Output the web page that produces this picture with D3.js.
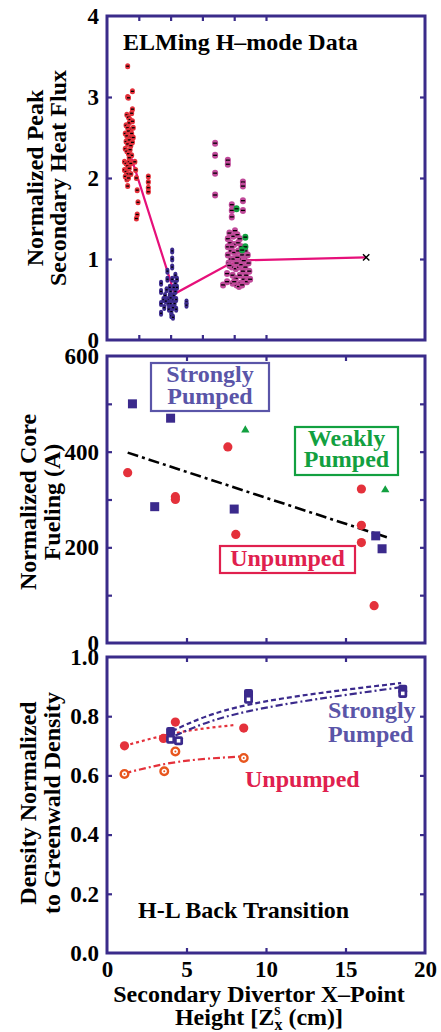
<!DOCTYPE html>
<html>
<head>
<meta charset="utf-8">
<script src="https://cdn.jsdelivr.net/npm/d3@7"></script>
</head>
<body style="margin:0;background:#fff">
<div id="chart"></div>
<script>
// panel 1 - ELMing H-mode peak heat flux clusters [x, y]
var unpumpedFlux = [
  [1.3,3.38],[1.6,3.07],[1.3,3.0],[1.35,2.99],
  [1.25,2.78],[1.35,2.75],[1.45,2.72],[1.55,2.8],[1.6,2.85],[1.2,2.65],[1.3,2.62],
  [1.4,2.68],[1.5,2.6],[1.6,2.7],[1.15,2.55],[1.25,2.52],[1.35,2.58],[1.45,2.5],
  [1.55,2.55],[1.2,2.45],[1.3,2.42],[1.4,2.47],[1.5,2.4],[1.6,2.44],[1.15,2.36],
  [1.25,2.33],[1.35,2.3],[1.45,2.35],[1.55,2.28],[1.4,2.25],[1.65,2.5],[1.65,2.62],
  [1.1,2.2],[1.2,2.18],[1.3,2.15],[1.4,2.2],[1.1,2.1],[1.2,2.08],[1.3,2.05],
  [1.4,2.12],[1.15,2.02],[1.25,1.98],[1.5,2.18],[1.5,2.05],[1.35,2.0],[1.3,1.9],
  [1.75,2.2],[1.8,2.1],[1.85,2.0],[1.9,1.85],[1.95,1.7],[1.9,1.55],[1.85,1.5],
  [2.6,2.02],[2.6,1.95],[2.6,1.88],[2.6,1.83]
];
var strongFlux = [
  [3.4,0.7],[3.4,0.6],[3.4,0.45],[3.4,0.33],[3.55,0.5],[3.6,0.4],[3.65,0.55],
  [3.75,0.62],[3.8,0.75],[3.8,0.85],[3.85,0.5],[3.85,0.45],[3.9,0.38],[3.95,0.65],
  [3.95,0.55],[4.0,0.45],[4.0,0.6],[4.05,0.35],[4.05,0.3],[4.1,1.1],[4.1,1.0],
  [4.1,0.9],[4.1,0.75],[4.1,0.5],[4.15,0.4],[4.15,0.28],[4.2,0.65],[4.2,0.55],
  [4.25,0.45],[4.3,0.8],[4.3,0.7],[4.3,0.6],[4.35,0.5],[4.35,0.38],[4.0,0.52],
  [3.7,0.48],[4.4,0.75],[4.4,0.65],[5.0,0.47],[5.0,0.43]
];
var midFlux = [
  [6.8,2.43],[6.8,2.28],[6.8,2.06],[6.8,1.79],[7.6,2.22],[7.6,2.17],[7.85,1.67],
  [7.85,1.6],[7.85,1.52],[8.55,1.95],[8.55,1.9],[8.55,1.72],[8.55,1.6],
  [7.3,0.68],[7.55,0.82],[7.55,0.72],[7.6,1.25],[7.6,1.15],[7.6,1.05],[7.65,0.95],
  [7.7,1.32],[7.75,1.2],[7.8,1.1],[7.8,1.0],[7.85,0.9],[7.9,0.8],[7.9,0.7],
  [7.95,1.28],[8.0,1.18],[8.0,1.08],[8.05,0.98],[8.1,0.88],[8.1,0.76],[8.15,0.68],
  [8.2,1.3],[8.25,1.2],[8.25,1.1],[8.3,1.0],[8.3,0.9],[8.35,0.8],[8.4,0.7],
  [8.45,1.15],[8.5,1.05],[8.5,0.95],[8.55,0.85],[8.6,0.75],[8.65,1.0],[8.7,0.9],
  [8.75,0.8],[8.8,0.72],[8.85,1.05],[8.9,0.95],[8.95,0.85],[9.0,0.75],[7.7,0.92],
  [7.95,1.0],[8.2,1.02],[8.4,0.93],[8.6,0.98],[7.85,1.15],[8.15,0.95],[8.35,1.25],
  [8.05,1.35],[8.7,1.1],[8.0,0.72],[8.3,0.66],[8.5,0.68]
];
var weakFlux = [[8.15,1.62],[8.7,1.27],[8.7,1.15],[8.5,1.11]];
var fluxTrend = [[1.55,2.24],[4.25,0.57],[7.6,0.93],[8.8,0.985],[16.3,1.02]];
var fluxCross = [[16.3,1.02]];

// panel 2 - normalized core fueling (A)
var fuelStrong = [[1.6,500],[4.0,470],[3.0,285],[8.0,280],[16.9,224],[17.3,197]];
var fuelUnpumped = [[1.3,356],[4.3,306],[4.3,300],[7.6,410],[8.1,227],[16.0,322],[16.0,246],[16.0,210],[16.8,78]];
var fuelWeak = [[8.7,445],[17.5,320]];
var fuelTrend = [[1.3,398],[17.6,221]];

// panel 3 - density normalized to Greenwald, H-L back transition
var densUnpFilled = [[1.1,0.70],[3.55,0.725],[4.3,0.78],[8.6,0.76]];
var densUnpOpen = [[1.1,0.605],[3.6,0.614],[4.3,0.681],[8.6,0.659]];
var densStrFilled = [[4.0,0.748],[8.9,0.877],[18.6,0.891]];
var densStrOpen = [[4.0,0.722],[4.5,0.717],[8.9,0.857],[18.6,0.877]];
var fitUnpFilled = [[1.1,0.70],[4.5,0.745],[8.0,0.77]];
var fitUnpOpen = [[1.1,0.607],[4.5,0.646],[8.5,0.664]];
var fitStrFilled = [[4.1,0.75],[9.0,0.84],[18.5,0.912]];
var fitStrOpen = [[4.3,0.735],[9.0,0.818],[18.5,0.898]];

var xTicksAll = [5, 10, 15];
var xTicksTop = [2, 4, 6, 8, 10];
var xLabels = [0, 5, 10, 15, 20];

var W = 441, H = 1032;
var frame = "#3a2b8a", purple = "#3b2a8c", lilac = "#5a55a8";
var red = "#e4313b", crimson = "#e0204e", green = "#12a040", magenta = "#c04a9a", pink = "#e6107a", orange = "#e8561e";

var svg = d3.select("#chart").append("svg").attr("width", W).attr("height", H);

var x = d3.scaleLinear().domain([0, 20]).range([107, 425]);
var y1 = d3.scaleLinear().domain([0, 4]).range([340, 16]);
var y2 = d3.scaleLinear().domain([0, 600]).range([643, 356]);
var y3 = d3.scaleLinear().domain([0, 1]).range([953, 657]);

function frameAxes(y, xt, yt) {
  var top = y.range()[1], bot = y.range()[0];
  var g = svg.append("g");
  var tick = function(a) { return a.tickSizeInner(-5).tickSizeOuter(0).tickFormat(""); };
  g.append("g").attr("transform", "translate(0," + bot + ")").call(tick(d3.axisBottom(x).tickValues(xt)));
  g.append("g").attr("transform", "translate(0," + top + ")").call(tick(d3.axisTop(x).tickValues(xt)));
  g.append("g").attr("transform", "translate(107,0)").call(tick(d3.axisLeft(y).tickValues(yt)));
  g.append("g").attr("transform", "translate(425,0)").call(tick(d3.axisRight(y).tickValues(yt)));
  g.selectAll(".domain").remove();
  g.selectAll(".tick line").attr("stroke", frame).attr("stroke-width", 2.2);
  svg.append("rect").attr("x", 107).attr("y", top).attr("width", 318).attr("height", bot - top)
    .attr("fill", "none").attr("stroke", frame).attr("stroke-width", 3);
}

function yLabels(y, vals, fmt) {
  var g = svg.append("g").attr("transform", "translate(107,0)")
    .call(d3.axisLeft(y).tickValues(vals).tickSize(0).tickPadding(8).tickFormat(fmt));
  g.select(".domain").remove();
  g.selectAll("text").attr("font-size", 23).attr("fill", "#000");
}

function yTitle(lines, cy, xs) {
  lines.forEach(function(t, i) {
    svg.append("text").attr("transform", "translate(" + xs[i] + "," + cy + ") rotate(-90)")
      .attr("text-anchor", "middle").attr("font-size", 24).text(t);
  });
}

function label(t, px, py, col, anchor) {
  return svg.append("text").attr("x", px).attr("y", py).attr("fill", col || "#000")
    .attr("text-anchor", anchor || "start").attr("font-size", 24).text(t);
}

// ---------- panel 1 ----------
frameAxes(y1, xTicksTop, [1, 2, 3]);
yLabels(y1, [0, 1, 2, 3, 4], d3.format("d"));
yTitle(["Normalized Peak", "Secondary Heat Flux"], 178, [43, 66]);
label("ELMing H\u2013mode Data", 123, 50);

svg.append("path").datum(fluxTrend)
  .attr("d", d3.line().x(function(d) { return x(d[0]); }).y(function(d) { return y1(d[1]); }))
  .attr("fill", "none").attr("stroke", pink).attr("stroke-width", 2.2);

function cluster(data, col, w, h) {
  var g = svg.append("g");
  var p = g.selectAll("g").data(data).enter().append("g")
    .attr("transform", function(d) { return "translate(" + x(d[0]) + "," + y1(d[1]) + ")"; });
  p.append("rect").attr("x", -w / 2).attr("y", -h / 2).attr("width", w).attr("height", h)
    .attr("rx", w / 2).attr("fill", col);
  p.append("line").attr("x1", -w / 2 + 1).attr("x2", w / 2 - 1).attr("y1", 0).attr("y2", 0)
    .attr("stroke", "#000").attr("stroke-width", 1.3);
}
cluster(midFlux, magenta, 6, 7);
cluster(weakFlux, green, 6, 7);
cluster(unpumpedFlux, red, 5, 6);
cluster(strongFlux, purple, 4, 7);

svg.selectAll(".cross").data(fluxCross).enter().append("path").attr("class", "cross")
  .attr("d", d3.symbol().type(d3.symbolX).size(28))
  .attr("transform", function(d) { return "translate(" + x(d[0]) + "," + y1(d[1]) + ")"; })
  .attr("stroke", "#000").attr("stroke-width", 1.4);

// ---------- panel 2 ----------
frameAxes(y2, xTicksAll, [100, 200, 300, 400, 500]);
yLabels(y2, [0, 200, 400, 600], d3.format("d"));
yTitle(["Normalized Core", "Fueling (A)"], 502, [36, 60]);

svg.append("path").datum(fuelTrend)
  .attr("d", d3.line().x(function(d) { return x(d[0]); }).y(function(d) { return y2(d[1]); }))
  .attr("fill", "none").attr("stroke", "#000").attr("stroke-width", 2.6).attr("stroke-dasharray", "11,4,3,4");

svg.selectAll(".fs").data(fuelStrong).enter().append("rect")
  .attr("x", function(d) { return x(d[0]) - 4.5; }).attr("y", function(d) { return y2(d[1]) - 4.5; })
  .attr("width", 9).attr("height", 9).attr("fill", purple);
svg.selectAll(".fu").data(fuelUnpumped).enter().append("circle")
  .attr("cx", function(d) { return x(d[0]); }).attr("cy", function(d) { return y2(d[1]); })
  .attr("r", 4.6).attr("fill", red);
svg.selectAll(".fw").data(fuelWeak).enter().append("path")
  .attr("d", d3.symbol().type(d3.symbolTriangle).size(30))
  .attr("transform", function(d) { return "translate(" + x(d[0]) + "," + y2(d[1]) + ")"; })
  .attr("fill", green);

function box(x0, y0, x1, y1b, col, lines, bases) {
  svg.append("rect").attr("x", x0).attr("y", y0).attr("width", x1 - x0).attr("height", y1b - y0)
    .attr("fill", "none").attr("stroke", col).attr("stroke-width", 2.2);
  lines.forEach(function(t, i) { label(t, (x0 + x1) / 2, bases[i], col, "middle"); });
}
box(151, 363, 269, 411, lilac, ["Strongly", "Pumped"], [382, 404]);
box(295, 427, 398, 475, green, ["Weakly", "Pumped"], [446, 467]);
box(220, 546, 355, 573, crimson, ["Unpumped"], [566]);

// ---------- panel 3 ----------
frameAxes(y3, xTicksAll, [0.2, 0.4, 0.6, 0.8]);
yLabels(y3, [0, 0.2, 0.4, 0.6, 0.8, 1.0], d3.format(".1f"));
yTitle(["Density Normalized", "to Greenwald Density"], 803, [36, 60]);

var xl = svg.append("g").attr("transform", "translate(0,953)")
  .call(d3.axisBottom(x).tickValues(xLabels).tickSize(0).tickPadding(8).tickFormat(d3.format("d")));
xl.select(".domain").remove();
xl.selectAll("text").attr("font-size", 23).attr("fill", "#000");

var curve = d3.line().curve(d3.curveNatural)
  .x(function(d) { return x(d[0]); }).y(function(d) { return y3(d[1]); });
[[fitUnpFilled, red, "3,3"], [fitUnpOpen, red, "7,3,2,3"],
 [fitStrFilled, purple, "5,3"], [fitStrOpen, purple, "7,3,2,3"]].forEach(function(c) {
  svg.append("path").datum(c[0]).attr("d", curve).attr("fill", "none")
    .attr("stroke", c[1]).attr("stroke-width", 2.2).attr("stroke-dasharray", c[2]);
});

svg.selectAll(".df").data(densUnpFilled).enter().append("circle")
  .attr("cx", function(d) { return x(d[0]); }).attr("cy", function(d) { return y3(d[1]); })
  .attr("r", 4.6).attr("fill", red);
var op = svg.selectAll(".do").data(densUnpOpen).enter().append("g")
  .attr("transform", function(d) { return "translate(" + x(d[0]) + "," + y3(d[1]) + ")"; });
op.append("circle").attr("r", 3.8).attr("fill", "#fff").attr("stroke", orange).attr("stroke-width", 2.4);
op.append("circle").attr("r", 1).attr("fill", orange);

svg.selectAll(".sf").data(densStrFilled).enter().append("rect")
  .attr("x", function(d) { return x(d[0]) - 4.5; }).attr("y", function(d) { return y3(d[1]) - 4.5; })
  .attr("width", 9).attr("height", 9).attr("rx", 2).attr("fill", purple);
var os = svg.selectAll(".so").data(densStrOpen).enter().append("g")
  .attr("transform", function(d) { return "translate(" + x(d[0]) + "," + y3(d[1]) + ")"; });
os.append("rect").attr("x", -4.5).attr("y", -4.5).attr("width", 9).attr("height", 9).attr("rx", 2).attr("fill", purple);
os.append("rect").attr("x", -1.8).attr("y", -1.8).attr("width", 3.6).attr("height", 3.6).attr("fill", "#fff");

label("Strongly", 328, 718, lilac);
label("Pumped", 328, 742, lilac);
label("Unpumped", 245, 787, crimson);
label("H-L Back Transition", 138, 918);

// x axis title
label("Secondary Divertor X\u2013Point", 259, 1002, "#000", "middle");
var t2 = label("Height [Z", 259, 1025, "#000", "middle");
t2.append("tspan").attr("font-size", 16).attr("dy", -10).text("s");
t2.append("tspan").attr("font-size", 16).attr("dx", -6).attr("dy", 15).text("x");
t2.append("tspan").attr("dy", -5).text(" (cm)]");

// all text in bold serif (single family name)
svg.selectAll("text").attr("font-family", "Liberation Serif").attr("font-weight", "bold")
  .style("font-family", "'Liberation Serif'");
</script>
</body>
</html>
